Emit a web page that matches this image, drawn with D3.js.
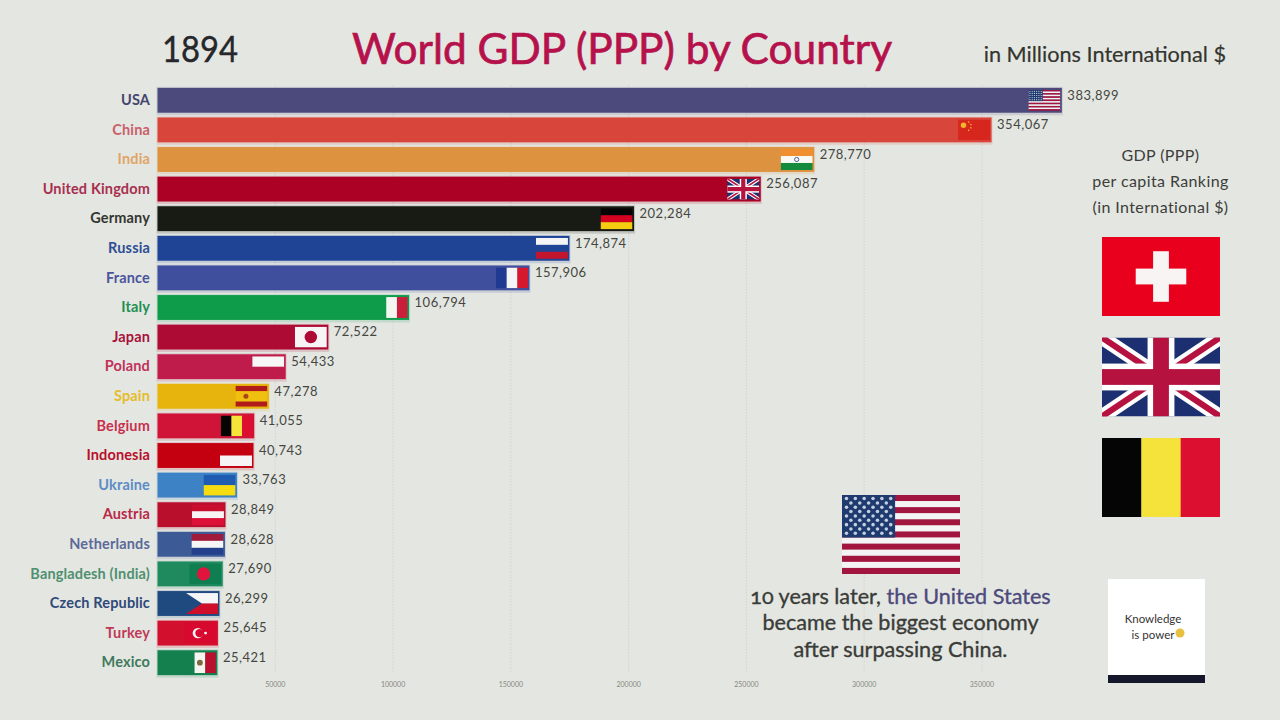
<!DOCTYPE html>
<html><head><meta charset="utf-8">
<script src="https://cdn.jsdelivr.net/npm/d3@7"></script>
<style>html,body{margin:0;padding:0;background:#e4e6e2;overflow:hidden}svg{display:block}text{font-family:"Lato","Open Sans",sans-serif}</style>
</head><body><svg id="c" width="1280" height="720"></svg>
<script>
const countries=["USA","China","India","United Kingdom","Germany","Russia","France","Italy","Japan","Poland","Spain","Belgium","Indonesia","Ukraine","Austria","Netherlands","Bangladesh (India)","Czech Republic","Turkey","Mexico"];
const gdp=[383899,354067,278770,256087,202284,174874,157906,106794,72522,54433,47278,41055,40743,33763,28849,28628,27690,26299,25645,25421];
const barColors=["#4c4a7c","#d8453a","#dd9240","#ad0025","#181a14","#1f4496","#3f4f9d","#0f9c4a","#ad0a34","#c01c4b","#e6b40d","#cf1437","#c40010","#3c82c4","#b90f2d","#3c5a96","#1e8a5e","#1e4a80","#d20f2d","#13804e"];
const labelColors=["#44466e","#c9606a","#e0a566","#a8304f","#33352f","#2f4f94","#4a559c","#1f8f52","#a8123a","#c0325a","#e6bc2a","#c8304c","#b8102a","#5c8cc4","#b82a48","#5c6a98","#4f9070","#2f4a78","#c03a58","#3f7a5c"];
const flagKinds=["us","cn","in","uk","de","ru","fr","it","jp","pl","es","be","id","ua","at","nl","bd","cz","tr","mx"];
const tickValues=[50000,100000,150000,200000,250000,300000,350000];
const perCapitaFlags=["ch","uk","be"];
const annotationLines=[["10 years later, ","the United States"],["became the biggest economy"],["after surpassing China."]];
const panelLines=["GDP (PPP)","per capita Ranking","(in International $)"];

const svg=d3.select("#c");
const x=d3.scaleLinear().domain([0,350000]).range([157.5,982]);
const y=d3.scaleBand().domain(countries).range([85.5,677.5]).paddingInner(0.16).paddingOuter(0.08);
const fmt=d3.format(",");
let clipId=0;

function stripes(g,w,h,cols,dir){
  cols.forEach((c,i)=>{
    if(dir==="h") g.append("rect").attr("y",h*i/cols.length).attr("width",w).attr("height",h/cols.length+0.3).attr("fill",c);
    else g.append("rect").attr("x",w*i/cols.length).attr("width",w/cols.length+0.3).attr("height",h).attr("fill",c);
  });
}
function drawFlag(g0,k,w,h){
  const id="fc"+(clipId++);
  g0.append("clipPath").attr("id",id).append("rect").attr("width",w).attr("height",h);
  const g=g0.append("g").attr("clip-path",`url(#${id})`);
  const R="#b5123f",W="#fff";
  if(k==="us"){
    d3.range(13).forEach(i=>g.append("rect").attr("y",h*i/13).attr("width",w).attr("height",h/13+0.2).attr("fill",i%2?"#f4f4f4":"#a1153f"));
    g.append("rect").attr("width",w*0.45).attr("height",h*7/13).attr("fill","#1e3a6e");
    if(w>60){d3.range(9).forEach(r=>d3.range(r%2?5:6).forEach(c=>g.append("circle").attr("cx",w*(0.038+c*0.075+(r%2?0.0375:0))).attr("cy",h*(0.045+r*0.055)).attr("r",w*0.015).attr("fill","#c5cfe2")));}
    else{d3.range(5).forEach(r=>d3.range(6).forEach(c=>g.append("circle").attr("cx",w*(0.05+c*0.07)).attr("cy",h*(0.07+r*0.1)).attr("r",0.6).attr("fill","#ccd3e4")));}
  } else if(k==="cn"){
    g.append("rect").attr("width",w).attr("height",h).attr("fill","#d7261e");
    g.append("circle").attr("cx",w*0.17).attr("cy",h*0.28).attr("r",h*0.13).attr("fill","#f0b52a");
    [[.33,.12],[.4,.24],[.4,.4],[.33,.52]].forEach(p=>g.append("circle").attr("cx",w*p[0]).attr("cy",h*p[1]).attr("r",h*0.04).attr("fill","#f0b52a"));
  } else if(k==="in"){
    stripes(g,w,h,["#ef8f2f","#f8f8f4","#138a3c"],"h");
    g.append("circle").attr("cx",w/2).attr("cy",h/2).attr("r",h*0.1).attr("fill","none").attr("stroke","#223a88").attr("stroke-width",0.8);
  } else if(k==="uk"){
    g.append("rect").attr("width",w).attr("height",h).attr("fill","#1c2f70");
    const a=h*0.14;
    [[0,0,w,h],[0,h,w,0]].forEach(l=>{
      g.append("line").attr("x1",l[0]).attr("y1",l[1]).attr("x2",l[2]).attr("y2",l[3]).attr("stroke",W).attr("stroke-width",a*1.3);
      g.append("line").attr("x1",l[0]).attr("y1",l[1]).attr("x2",l[2]).attr("y2",l[3]).attr("stroke",R).attr("stroke-width",a*0.55);
    });
    g.append("rect").attr("x",w/2-h*0.17).attr("width",h*0.34).attr("height",h).attr("fill",W);
    g.append("rect").attr("y",h*0.33).attr("width",w).attr("height",h*0.34).attr("fill",W);
    g.append("rect").attr("x",w/2-h*0.1).attr("width",h*0.2).attr("height",h).attr("fill",R);
    g.append("rect").attr("y",h*0.4).attr("width",w).attr("height",h*0.2).attr("fill",R);
  } else if(k==="de") stripes(g,w,h,["#050505","#d4001f","#f5cc10"],"h");
  else if(k==="ru") stripes(g,w,h,["#f4f4f6","#1f4496","#c4152e"],"h");
  else if(k==="fr") stripes(g,w,h,["#1f3a90","#f4f4f6","#d6182f"],"v");
  else if(k==="it") stripes(g,w,h,["#0f9c4a","#f4f6f2","#c8203c"],"v");
  else if(k==="jp"){
    g.append("rect").attr("width",w).attr("height",h).attr("fill","#f6f4f4");
    g.append("circle").attr("cx",w/2).attr("cy",h/2).attr("r",h*0.3).attr("fill","#ad0a34");
  } else if(k==="pl") stripes(g,w,h,["#f6f6f6","#c01c4b"],"h");
  else if(k==="es"){
    g.append("rect").attr("width",w).attr("height",h).attr("fill","#f0c010");
    g.append("rect").attr("width",w).attr("height",h*0.25).attr("fill","#b01a1a");
    g.append("rect").attr("y",h*0.75).attr("width",w).attr("height",h*0.25).attr("fill","#b01a1a");
    g.append("circle").attr("cx",w*0.33).attr("cy",h/2).attr("r",h*0.12).attr("fill","#a8481a");
  } else if(k==="be") stripes(g,w,h,["#050505","#f5e33c","#dc0f30"],"v");
  else if(k==="id") stripes(g,w,h,["#c40010","#f6f4f4"],"h");
  else if(k==="ua") stripes(g,w,h,["#1f5bb0","#f4dc10"],"h");
  else if(k==="at") stripes(g,w,h,["#c8102e","#f6f4f4","#dc1038"],"h");
  else if(k==="nl") stripes(g,w,h,["#a01a3c","#f6f6f6","#24408c"],"h");
  else if(k==="bd"){
    g.append("rect").attr("width",w).attr("height",h).attr("fill","#0f7f52");
    g.append("circle").attr("cx",w*0.45).attr("cy",h/2).attr("r",h*0.32).attr("fill","#e0143c");
  } else if(k==="cz"){
    stripes(g,w,h,["#f6f6f6","#cf0e2a"],"h");
    g.append("path").attr("d",d3.line()([[0,0],[w*0.5,h/2],[0,h]])).attr("fill","#1e4a80");
  } else if(k==="tr"){
    g.append("rect").attr("width",w).attr("height",h).attr("fill","#d8092e");
    g.append("circle").attr("cx",w*0.42).attr("cy",h/2).attr("r",h*0.25).attr("fill","#f6f6f6");
    g.append("circle").attr("cx",w*0.47).attr("cy",h/2).attr("r",h*0.2).attr("fill","#d8092e");
    g.append("circle").attr("cx",w*0.66).attr("cy",h/2).attr("r",h*0.07).attr("fill","#f6f6f6");
  } else if(k==="mx"){
    stripes(g,w,h,["#13804e","#f4f4f0","#b8102e"],"v");
    g.append("circle").attr("cx",w/2).attr("cy",h/2).attr("r",h*0.14).attr("fill","#7a6a40");
  } else if(k==="ch"){
    g.append("rect").attr("width",w).attr("height",h).attr("fill","#e8001c");
    g.append("rect").attr("x",w/2-h*0.1).attr("y",h*0.18).attr("width",h*0.2).attr("height",h*0.64).attr("fill","#f8f4f4");
    g.append("rect").attr("x",w/2-h*0.32).attr("y",h*0.4).attr("width",h*0.64).attr("height",h*0.2).attr("fill","#f8f4f4");
  }
}

// grid
const grid=svg.append("g");
grid.selectAll("line").data(tickValues).join("line")
  .attr("x1",d=>x(d)).attr("x2",d=>x(d)).attr("y1",85).attr("y2",672)
  .attr("stroke","#d2d4d0").attr("stroke-width",1).attr("stroke-dasharray","1.5 1.5");
grid.selectAll("text").data(tickValues).join("text")
  .attr("x",d=>x(d)).attr("y",687).attr("text-anchor","middle")
  .attr("font-size",7).attr("fill","#85877f").text(d=>d);

// bars
const rows=svg.append("g").selectAll("g").data(countries).join("g")
  .attr("transform",d=>`translate(0,${y(d)})`);
const H=y.bandwidth();
rows.append("rect").attr("x",x(0)-1).attr("y",-1).attr("height",H+3.5)
  .attr("width",(d,i)=>x(gdp[i])-x(0)+2).attr("fill",(d,i)=>barColors[i]).attr("opacity",0.16);
rows.append("rect").attr("x",x(0)).attr("y",0).attr("height",H)
  .attr("width",(d,i)=>x(gdp[i])-x(0)).attr("fill",(d,i)=>barColors[i]);
rows.each(function(d,i){
  const fw=32,fh=H-4;
  const g=d3.select(this).append("g").attr("transform",`translate(${x(gdp[i])-fw-1.5},2)`);
  drawFlag(g,flagKinds[i],fw,fh);
});
rows.append("text").attr("x",150).attr("y",H/2+4.8).attr("text-anchor","end")
  .attr("font-size",14.5).attr("font-weight",700).attr("letter-spacing",0.15).attr("fill",(d,i)=>labelColors[i]).text(d=>d);
rows.append("text").attr("x",(d,i)=>x(gdp[i])+5.5).attr("y",H/2-0.8).attr("font-size",13)
  .attr("fill","#45473f").attr("letter-spacing",0.5).text((d,i)=>fmt(gdp[i]));

// headings
svg.append("text").attr("x",162).attr("y",62).attr("font-size",37).attr("fill","#25272a").attr("stroke","#25272a").attr("stroke-width",0.4)
  .attr("textLength",76).attr("lengthAdjust","spacingAndGlyphs").text("1894");
svg.append("text").attr("x",622).attr("y",64).attr("text-anchor","middle").attr("font-size",42.4).attr("fill","#b5124c")
  .attr("stroke","#b5124c").attr("stroke-width",0.7).text("World GDP (PPP) by Country");
svg.append("text").attr("x",1226).attr("y",62).attr("text-anchor","end").attr("font-size",21.7).attr("fill","#33352f").attr("stroke","#33352f").attr("stroke-width",0.2).text("in Millions International $");

// right panel
svg.append("g").selectAll("text").data(panelLines).join("text")
  .attr("x",1160.5).attr("y",(d,i)=>160.5+i*26).attr("text-anchor","middle").attr("font-size",16).attr("letter-spacing",0.4).attr("fill","#3c3e3a").text(d=>d);
const fy=d3.scalePoint().domain(perCapitaFlags).range([237,438]);
perCapitaFlags.forEach(k=>{
  drawFlag(svg.append("g").attr("transform",`translate(1102,${fy(k)})`),k,118,79);
});

// annotation
drawFlag(svg.append("g").attr("transform","translate(842,495)"),"us",118,79);
const ann=svg.append("g").selectAll("text").data(annotationLines).join("text")
  .attr("x",900.5).attr("y",(d,i)=>604+i*26.3).attr("text-anchor","middle").attr("font-size",21.6)
  .attr("fill","#3a3c38").attr("stroke","#3a3c38").attr("stroke-width",0.35).style("font-variant-numeric","oldstyle-nums");
ann.selectAll("tspan").data(d=>d).join("tspan").attr("fill",(d,i)=>i?"#4c4a7c":null).attr("stroke",(d,i)=>i?"#4c4a7c":null).text(d=>d);

// logo
const logo=svg.append("g").attr("transform","translate(1108,579)");
logo.append("rect").attr("width",97).attr("height",104).attr("fill","#fff");
logo.append("rect").attr("y",96).attr("width",97).attr("height",8).attr("fill","#15172a");
logo.append("text").attr("x",45).attr("y",44).attr("text-anchor","middle").attr("font-size",11.5).attr("fill","#333").text("Knowledge");
logo.append("text").attr("x",45).attr("y",60).attr("text-anchor","middle").attr("font-size",11.5).attr("fill","#333").text("is power");
logo.append("circle").attr("cx",72).attr("cy",54).attr("r",4.5).attr("fill","#e8c040");
</script></body></html>
